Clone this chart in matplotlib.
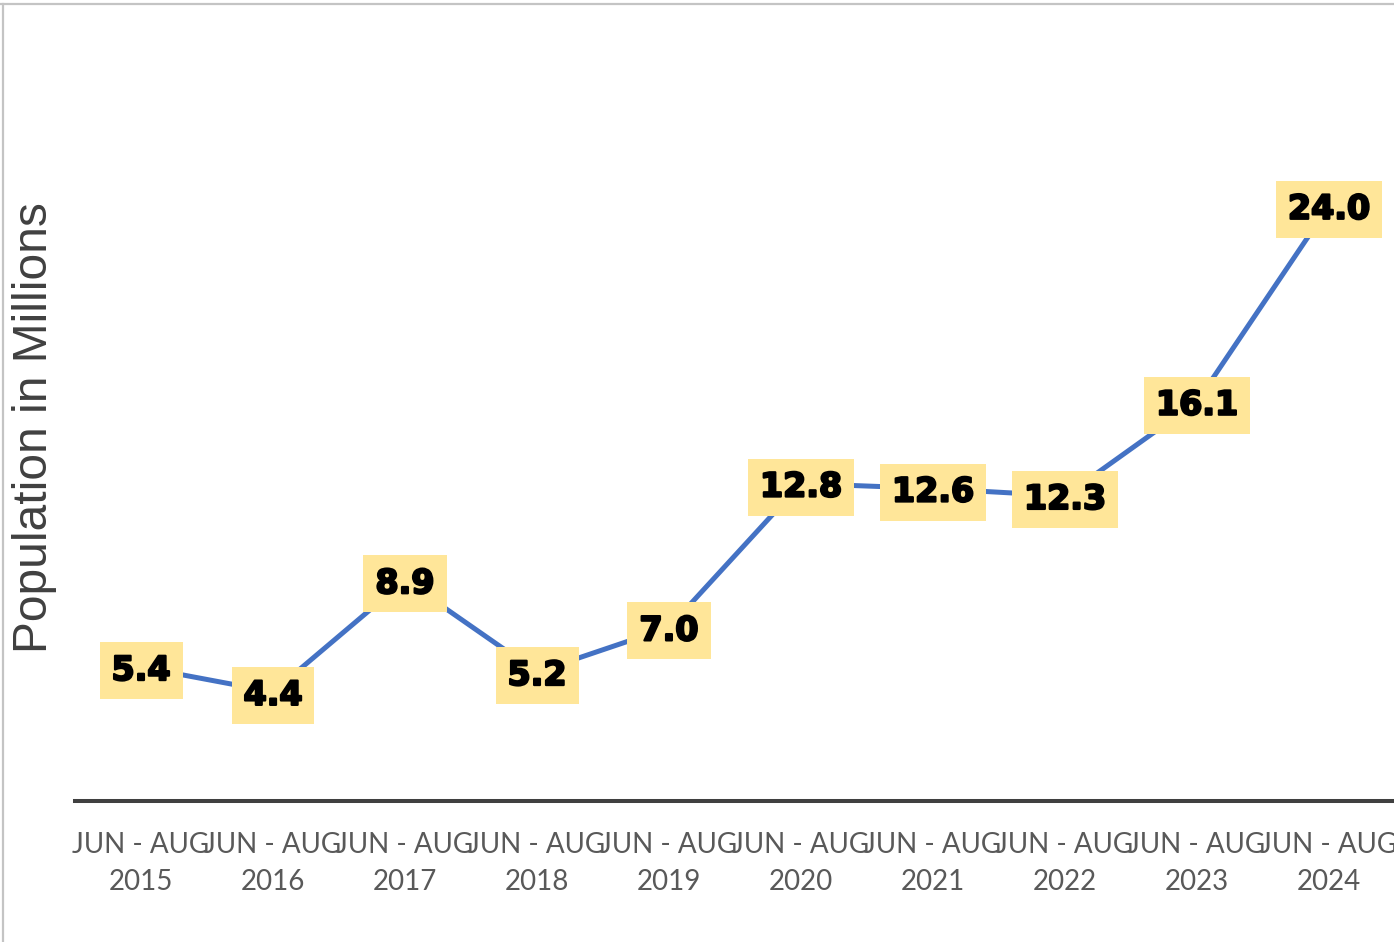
import matplotlib
matplotlib.use("Agg")
import matplotlib.pyplot as plt
import matplotlib.patheffects as pe
from matplotlib.lines import Line2D

# data (population in millions)
periods = ["JUN - AUG\n2015", "JUN - AUG\n2016", "JUN - AUG\n2017", "JUN - AUG\n2018",
           "JUN - AUG\n2019", "JUN - AUG\n2020", "JUN - AUG\n2021", "JUN - AUG\n2022",
           "JUN - AUG\n2023", "JUN - AUG\n2024"]
population = [5.4, 4.4, 8.9, 5.2, 7.0, 12.8, 12.6, 12.3, 16.1, 24.0]

W, H = 1394, 942
fig = plt.figure(figsize=(W/100, H/100), dpi=100)
ax = fig.add_axes([75/W, 1-801/H, 1320/W, (801-57)/H])

xs = list(range(len(population)))
ax.plot(xs, population, color='#4472C4', lw=3.6, solid_capstyle='butt', zorder=2)

for x, v in zip(xs, population):
    ax.text(x, v, f"{v:.1f}", ha='center', va='center_baseline', fontsize=24,
            fontweight='bold', family='DejaVu Sans', color='black', zorder=3,
            bbox=dict(boxstyle='square,pad=0.36', fc='#FFE699', ec='none'),
            path_effects=[pe.withStroke(linewidth=1.6, foreground='black')],
            clip_on=False)

ax.set_xlim(-0.5, len(population)-0.5)
ax.set_ylim(0, 30)
ax.set_xticks(xs)
ax.set_xticklabels(periods, fontsize=20, family='Lato', color='#595959', linespacing=1.55)
ax.tick_params(axis='x', length=0, pad=22)
ax.set_yticks([])
for s in ['top', 'right', 'left']:
    ax.spines[s].set_visible(False)
ax.spines['bottom'].set_color('#404040')
ax.spines['bottom'].set_linewidth(2.9)

fig.text(35/W, 1-428/H, "Population in Millions", rotation=90, ha='center', va='center',
         fontsize=34.5, family='Liberation Sans', color='#404040')

# light frame at top and left edges
fig.add_artist(Line2D([0, 1], [1-4/H, 1-4/H], color='#c4c4c4', lw=1.6))
fig.add_artist(Line2D([2.5/W, 2.5/W], [0, 1-4/H], color='#c4c4c4', lw=1.6))

fig.savefig("out.png", dpi=100)
